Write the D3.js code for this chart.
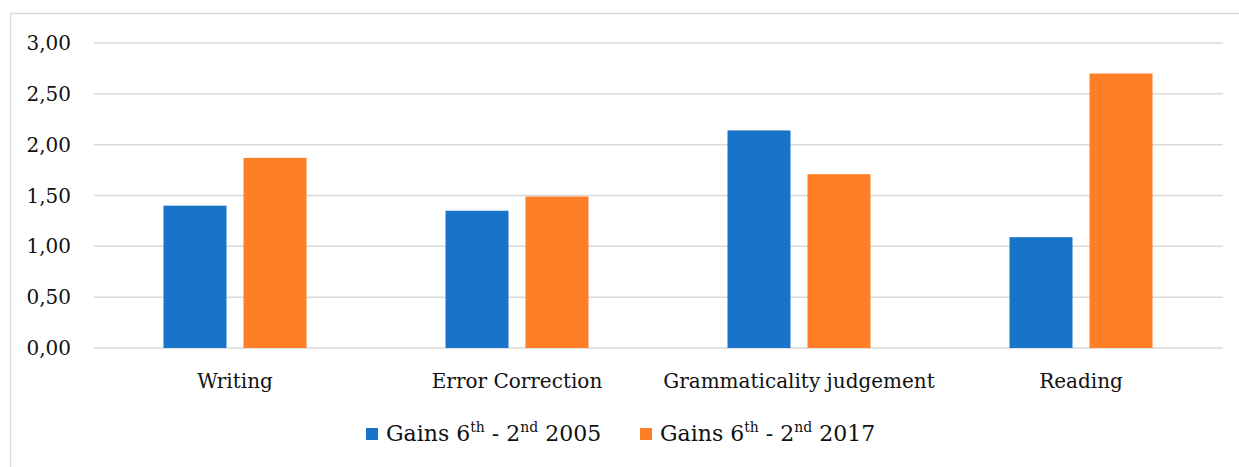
<!DOCTYPE html>
<html><head><meta charset="utf-8">
<script src="https://cdn.jsdelivr.net/npm/d3@7"></script>
<style>body{margin:0;background:#fff}svg{display:block}</style>
</head><body><svg id="c" width="1239" height="467"></svg>
<script>
const categories = ["Writing", "Error Correction", "Grammaticality judgement", "Reading"];
const gains2005 = [1.40, 1.35, 2.14, 1.09];
const gains2017 = [1.87, 1.49, 1.71, 2.70];
const yTicks = [0, 0.5, 1, 1.5, 2, 2.5, 3];
const seriesNames = [["Gains 6", "th", " - 2", "nd", " 2005"], ["Gains 6", "th", " - 2", "nd", " 2017"]];
const colors = ["#1874C9", "#FF7F27"];

const svg = d3.select("#c");
const font = "'DejaVu Serif', serif";
svg.append("path").attr("d", "M10.5,467 V13.5 H1239").attr("fill", "none").attr("stroke", "#d9d9d9").attr("stroke-width", 1.5);

const x = d3.scaleBand().domain(categories).range([94, 1222]);
const y = d3.scaleLinear().domain([0, 3]).range([348, 43]);
const fmt = v => d3.format(".2f")(v).replace(".", ",");

svg.append("g").selectAll("line").data(yTicks).join("line")
  .attr("x1", 94).attr("x2", 1223).attr("y1", d => y(d)).attr("y2", d => y(d))
  .attr("stroke", "#d9d9d9").attr("stroke-width", 1.5);

svg.append("g").selectAll("text").data(yTicks).join("text")
  .attr("x", 71).attr("y", d => y(d) + 7).attr("text-anchor", "end")
  .attr("font-family", font).attr("font-size", 20).attr("fill", "#111").text(fmt);

const barW = 63, gap = 17;
const series = [gains2005, gains2017];
series.forEach((vals, si) => {
  svg.append("g").selectAll("rect").data(vals).join("rect")
    .attr("x", (d, i) => x(categories[i]) + x.bandwidth() / 2 + (si === 0 ? -(gap / 2 + barW) : gap / 2))
    .attr("width", barW)
    .attr("y", d => y(d)).attr("height", d => y(0) - y(d))
    .attr("fill", colors[si]);
});

svg.append("g").selectAll("text").data(categories).join("text")
  .attr("x", d => x(d) + x.bandwidth() / 2).attr("y", 388).attr("text-anchor", "middle")
  .attr("font-family", font).attr("font-size", 20).attr("fill", "#111")
  .text(d => d);

const legX = [366, 640];
seriesNames.forEach((parts, i) => {
  svg.append("rect").attr("x", legX[i]).attr("y", 428).attr("width", 12).attr("height", 12).attr("fill", colors[i]);
  const t = svg.append("text").attr("x", legX[i] + 20).attr("y", 441)
    .attr("font-family", font).attr("font-size", 22).attr("fill", "#111");
  parts.forEach((p, k) => {
    const ts = t.append("tspan").text(p);
    if (k % 2 === 1) ts.attr("font-size", 14).attr("dy", -9);
    else if (k > 0) ts.attr("dy", 9);
  });
});
</script></body></html>
